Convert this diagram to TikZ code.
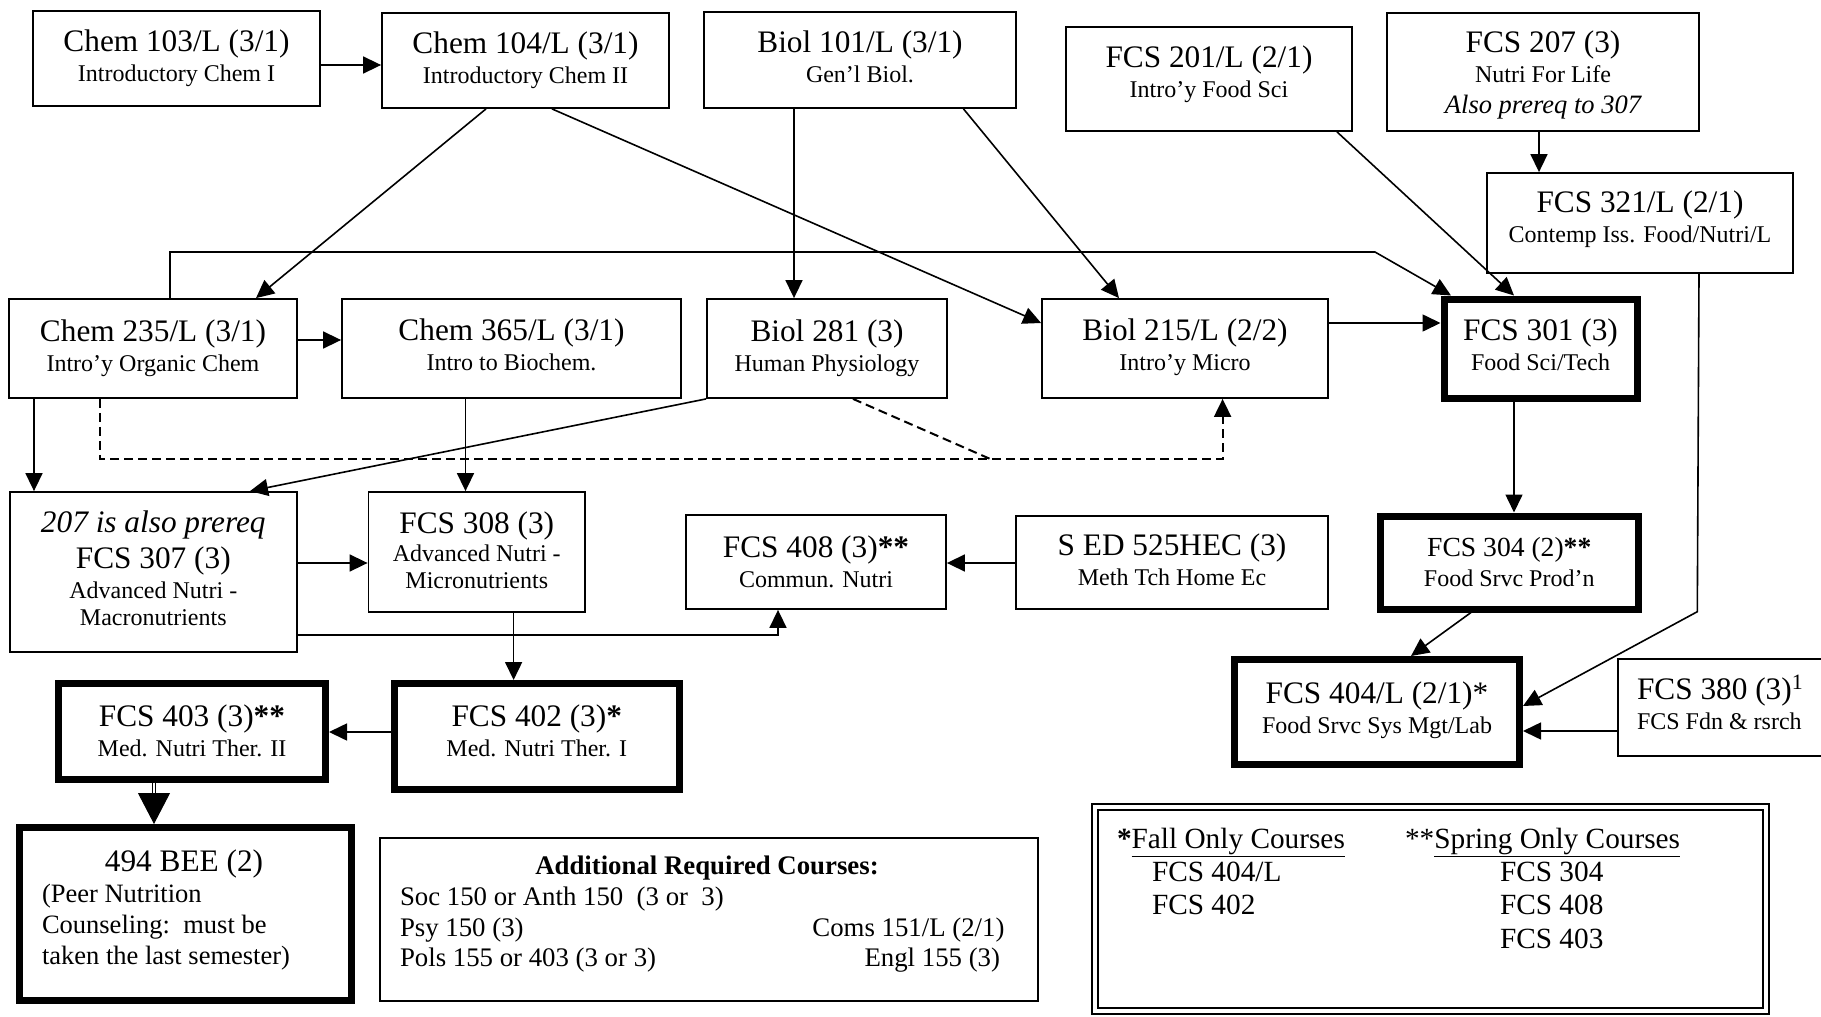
\documentclass[tikz,border=0pt]{standalone}
\usepackage{fontspec}
\setmainfont{Liberation Serif}
\usetikzlibrary{arrows.meta}
\newcommand\mainf{\fontsize{31.3}{27}\selectfont}
\newcommand\subf{\fontsize{24}{27}\selectfont}
\newcommand\addf{\fontsize{26.8}{31}\selectfont}
\newcommand\legf{\fontsize{29.3}{33}\selectfont}
\newcommand\beef{\fontsize{26.5}{31}\selectfont}
% trailing empty row: moves the text block of a box up or down
\newcommand\tailrow[1]{\\[#1]\mbox{}}
\tikzset{
  cbox/.style={draw, line width=1.8pt, align=center, inner sep=0pt, font=\subf},
  heavybox/.style={cbox, line width=7pt},
  arr/.style={line width=1.6pt, -{Triangle[length=18pt,width=17pt]}},
  dashline/.style={line width=2pt, dash pattern=on 9pt off 5pt},
  dasharr/.style={dashline, -{Triangle[length=18pt,width=17pt]}},
  txt/.style={inner sep=0pt, outer sep=0pt},
}
\lineskiplimit=-100pt
\begin{document}
\begin{tikzpicture}[x=1pt,y=-1pt]
\useasboundingbox (0,0) rectangle (1821,1017);
\clip (0,0) rectangle (1821,1017);
\fill[white] (0,0) rectangle (1821,1017);

% ---------- boxes ----------
\node[cbox, minimum width=287pt, minimum height=95pt] (c103) at (176.5,58.5)
  {{\mainf Chem 103/L (3/1)}\\[3pt]Introductory Chem I};
\node[cbox, minimum width=287pt, minimum height=95pt] (c104) at (525.5,60.5)
  {{\mainf Chem 104/L (3/1)}\\[3pt]Introductory Chem II};
\node[cbox, minimum width=312pt, minimum height=96pt] (b101) at (860,60)
  {{\mainf Biol 101/L (3/1)}\\[3pt]Gen’l Biol.\tailrow{-20pt}};
\node[cbox, minimum width=286pt, minimum height=104pt] (f201) at (1209,79)
  {{\mainf FCS 201/L (2/1)}\\[3pt]Intro’y Food Sci\tailrow{-12.6pt}};
\node[cbox, minimum width=312pt, minimum height=118pt] (f207) at (1543,72)
  {{\mainf FCS 207 (3)}\\[3pt]Nutri For Life\\[4pt]{\fontsize{26.5}{27}\selectfont\itshape Also prereq to 307}\tailrow{-28pt}};
\node[cbox, minimum width=306pt, minimum height=100pt] (f321) at (1640,223)
  {{\mainf FCS 321/L (2/1)}\\[3pt]Contemp Iss. Food/Nutri/L\tailrow{-14.8pt}};

\node[cbox, minimum width=288pt, minimum height=99pt] (c235) at (153,348.5)
  {{\mainf Chem 235/L (3/1)}\\[3pt]Intro’y Organic Chem};
\node[cbox, minimum width=339pt, minimum height=99pt] (c365) at (511.5,348.5)
  {{\mainf Chem 365/L (3/1)}\\[3pt]Intro to Biochem.\tailrow{-19pt}};
\node[cbox, minimum width=240pt, minimum height=99pt] (b281) at (827,348.5)
  {{\mainf Biol 281 (3)}\\[3pt]Human Physiology};
\node[cbox, minimum width=286pt, minimum height=99pt] (b215) at (1185,348.5)
  {{\mainf Biol 215/L (2/2)}\\[3pt]Intro’y Micro\tailrow{-18.8pt}};
\node[heavybox, minimum width=193pt, minimum height=99pt] (f301) at (1540.5,348.5)
  {{\mainf FCS 301 (3)}\\[3pt]Food Sci/Tech\tailrow{-20pt}};

\node[cbox, minimum width=287.4pt, minimum height=160pt] (f307) at (153.3,572)
  {{\mainf\itshape 207 is also prereq}\\[9pt]{\mainf FCS 307 (3)}\\[3pt]Advanced Nutri -\\Macronutrients\tailrow{-20pt}};
\node[cbox, minimum width=216.5pt, minimum height=120pt] (f308) at (476.75,552)
  {{\mainf FCS 308 (3)}\\[1pt]Advanced Nutri -\\Micronutrients\tailrow{-23pt}};
\node[cbox, minimum width=260pt, minimum height=94pt] (f408) at (816,562)
  {{\mainf FCS 408 (3)\textbf{**}}\\[3pt]Commun. Nutri};
\node[cbox, minimum width=312pt, minimum height=93pt] (sed) at (1172,562.5)
  {{\mainf S ED 525HEC (3)}\\[3pt]Meth Tch Home Ec\tailrow{-22pt}};
\node[heavybox, minimum width=258.5pt, minimum height=93pt] (f304) at (1509.25,562.5)
  {{\fontsize{27.6}{27}\selectfont FCS 304 (2)\textbf{**}}\\[3pt]Food Srvc Prod’n};

\node[heavybox, minimum width=285pt, minimum height=105pt] (f404) at (1377,712)
  {{\mainf FCS 404/L (2/1)*}\\[3pt]Food Srvc Sys Mgt/Lab\tailrow{-18.8pt}};
\node[cbox, minimum width=222pt, minimum height=97pt] (f380) at (1729,707.5) {};
\node[txt, anchor=base west, font=\mainf] (f380a) at (1637,699) {FCS 380 (3)\textsuperscript{1}};
\node[txt, anchor=base west, font=\subf] (f380b) at (1637,729) {FCS Fdn \& rsrch};

\node[heavybox, minimum width=267pt, minimum height=95.5pt] (f403) at (192,731.25)
  {{\mainf FCS 403 (3)\textbf{**}}\\[3pt]Med. Nutri Ther. II};
\node[heavybox, minimum width=285.5pt, minimum height=106pt] (f402) at (536.75,736.5)
  {{\mainf FCS 402 (3)\textbf{*}}\\[3pt]Med. Nutri Ther. I\tailrow{-15pt}};

\node[heavybox, minimum width=332.5pt, minimum height=173pt] (bee) at (185.25,914) {};
\node[txt, anchor=base, font=\mainf] (bee0) at (184,871) {494 BEE (2)};
\node[txt, anchor=base west, font=\beef] (bee1) at (42,902) {(Peer Nutrition};
\node[txt, anchor=base west, font=\beef] (bee2) at (42,933) {Counseling:\ \ must be};
\node[txt, anchor=base west, font=\beef] (bee3) at (42,964) {taken the last semester)};

\node[cbox, minimum width=658pt, minimum height=163pt] (addl) at (709,919.5) {};
\node[txt, anchor=base, font=\addf\bfseries] (addl0) at (707,874) {Additional Required Courses:};
\node[txt, anchor=base west, font=\addf] (addl1) at (400,905) {Soc 150 or Anth 150\ \ (3 or\ \ 3)};
\node[txt, anchor=base west, font=\addf] (addl2) at (400,936) {Psy 150 (3)};
\node[txt, anchor=base east, font=\addf] (addl3) at (1004.5,936) {Coms 151/L (2/1)};
\node[txt, anchor=base west, font=\addf] (addl4) at (400,966) {Pols 155 or 403 (3 or 3)};
\node[txt, anchor=base east, font=\addf] (addl5) at (1000,966) {Engl 155 (3)};

\node[draw, line width=2.5pt, minimum width=677pt, minimum height=210pt, inner sep=0pt] (leg) at (1430.5,909) {};
\node[draw, line width=1.3pt, minimum width=665pt, minimum height=198pt, inner sep=0pt] (legin) at (1430.5,909) {};
\node[txt, anchor=base west, font=\legf] (leg1) at (1117,848) {\textbf{*}\underline{Fall Only Courses}};
\node[txt, anchor=base west, font=\legf] (leg2) at (1152,881) {FCS 404/L};
\node[txt, anchor=base west, font=\legf] (leg3) at (1152,914) {FCS 402};
\node[txt, anchor=base west, font=\legf] (leg4) at (1405,848) {**\underline{Spring Only Courses}};
\node[txt, anchor=base west, font=\legf] (leg5) at (1500,881) {FCS 304};
\node[txt, anchor=base west, font=\legf] (leg6) at (1500,914) {FCS 408};
\node[txt, anchor=base west, font=\legf] (leg7) at (1500,948) {FCS 403};

% ---------- connectors ----------
\draw[arr] (c103.east |- 0,65) -- (c104.west |- 0,65);
\draw[arr] (c104.south -| 486,0) -- (c235.north -| 256,0);
\draw[arr] (c104.south -| 552,0) -- (b215.west |- 0,323);
\draw[arr] (b101.south -| 794,0) -- (b281.north -| 794,0);
\draw[arr] (b101.south -| 963.5,0) -- (b215.north -| 1119,0);
\coordinate (bend1) at (1375,252);
\draw[arr] (c235.north -| 170,0) |- (bend1) -- (f301.north -| 1451,0);
\draw[arr] (f201.south -| 1337,0) -- (f301.north -| 1514,0);
\draw[arr] (f207.south -| 1539,0) -- (f321.north -| 1539,0);
\draw[arr] (b215.east |- 0,323) -- (f301.west |- 0,323);
\draw[arr] (c235.east |- 0,340) -- (c365.west |- 0,340);
\draw[arr] (c235.south -| 34,0) -- (f307.north -| 34,0);
\coordinate (dj) at (1222.6,459.3);
\draw[dasharr] (c235.south -| 100.4,0) |- (dj) -- (b215.south -| dj);
\coordinate (dk) at (991,459.3);
\draw[dashline] (b281.south -| 853,0) -- (dk);
\draw[arr] (c365.south -| 465.5,0) -- (f308.north -| 465.5,0);
\draw[arr] (b281.south west) -- (f307.north -| 250,0);
\draw[arr] (f307.east |- 0,563) -- (f308.west |- 0,563);
\draw[arr] (f307.east |- 0,635) -| (f408.south -| 778,0);
\draw[arr] (f308.south -| 513.6,0) -- (f402.north -| 513.6,0);
\draw[arr] (sed.west |- 0,563) -- (f408.east |- 0,563);
\draw[arr] (f301.south -| 1514,0) -- (f304.north -| 1514,0);
\draw[arr] (f304.south -| 1471,0) -- (f404.north -| 1411,0);
\coordinate (bend2) at (1697.3,611.7);
\draw[arr] (f321.south -| 1699,0) -- (bend2) -- (f404.east |- 0,706);
\draw[arr] (f380.west |- 0,731) -- (f404.east |- 0,731);
\draw[arr] (f402.west |- 0,732) -- (f403.east |- 0,732);
\coordinate (dbl) at (154,793);
\draw[line width=1.1pt, double, double distance=2.5pt] (f403.south -| 154,0) -- (dbl);
\draw[line width=1pt, -{Triangle[length=31pt,width=32pt]}] (dbl) -- (bee.north -| 154,0);
\end{tikzpicture}
\end{document}
